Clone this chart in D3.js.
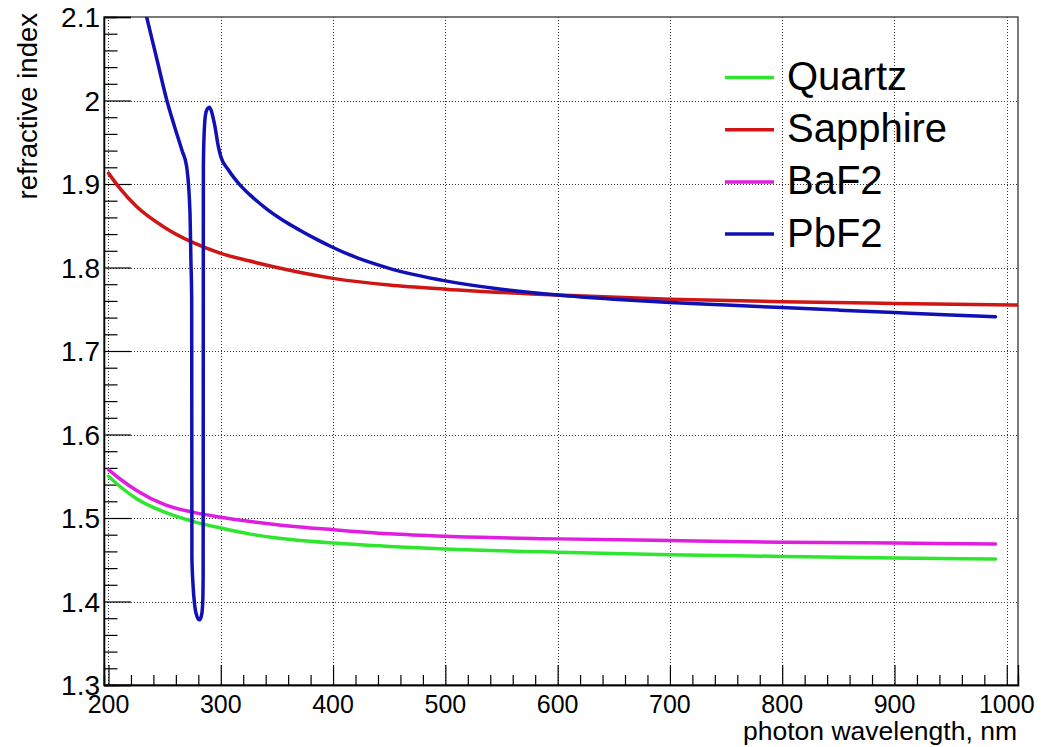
<!DOCTYPE html>
<html>
<head>
<meta charset="utf-8">
<script src="https://cdn.jsdelivr.net/npm/d3@7"></script>
<style>
  html, body { margin: 0; padding: 0; background: #fff; }
  svg { display: block; }
  text { font-family: "Liberation Sans", Arial, Helvetica, sans-serif; fill: #000; }
</style>
</head>
<body>
<svg id="chart" width="1041" height="747"></svg>
<script>
// Refractive index vs photon wavelength (nm)
const commonWl = [200, 210, 225, 250, 275, 300, 325, 350, 400, 450, 500, 600, 700, 800, 900, 990];
const quartzN  = [1.550, 1.538, 1.523, 1.507, 1.496, 1.488, 1.481, 1.476, 1.470, 1.466, 1.463, 1.459, 1.456, 1.454, 1.452, 1.451];
const baf2N    = [1.558, 1.547, 1.533, 1.516, 1.507, 1.501, 1.496, 1.492, 1.486, 1.481, 1.478, 1.475, 1.473, 1.471, 1.470, 1.469];

const sapphireWl = [200, 210, 225, 250, 275, 300, 325, 350, 400, 450, 500, 600, 700, 800, 900, 1010];
const sapphireN  = [1.913, 1.895, 1.873, 1.848, 1.830, 1.817, 1.808, 1.800, 1.787, 1.779, 1.774, 1.767, 1.762, 1.759, 1.757, 1.755];

const pbf2Wl = [228, 234, 243, 252, 259, 265.5, 269.6, 272.6, 273.4, 274.1, 274.3, 275.2, 276.8, 278.8, 280.9, 282.8,
                283.9, 284.3, 284.5, 285.2, 286.4, 288, 289.8, 291.5, 294.8, 297.8, 300, 306.7, 317, 326, 341, 356,
                370, 385, 400, 415, 450, 500, 550, 600, 650, 700, 750, 800, 850, 900, 950, 990];
const pbf2N  = [2.135, 2.100, 2.050, 2.000, 1.968, 1.940, 1.921, 1.865, 1.809, 1.761, 1.452, 1.422, 1.395, 1.382, 1.378, 1.383,
                1.398, 1.430, 1.921, 1.961, 1.983, 1.990, 1.992, 1.988, 1.969, 1.945, 1.933, 1.917, 1.899, 1.887, 1.870, 1.856,
                1.845, 1.834, 1.824, 1.815, 1.799, 1.784, 1.774, 1.767, 1.762, 1.758, 1.755, 1.752, 1.749, 1.746, 1.743, 1.741];

const seriesNames  = ["Quartz", "Sapphire", "BaF2", "PbF2"];
const seriesColors = ["#2fe62f", "#d01515", "#e01ee0", "#1010b4"];

const xTickValues = [200, 300, 400, 500, 600, 700, 800, 900, 1000];
const yTickValues = [1.3, 1.4, 1.5, 1.6, 1.7, 1.8, 1.9, 2.0, 2.1];
const yTickLabels = ["1.3", "1.4", "1.5", "1.6", "1.7", "1.8", "1.9", "2", "2.1"];

const xTitle = "photon wavelength, nm";
const yTitle = "refractive index";

// layout
const plot = { left: 104, right: 1018, top: 17, bottom: 685 };

const svg = d3.select("#chart");
const x = d3.scaleLinear().domain([196, 1010]).range([plot.left, plot.right]);
const y = d3.scaleLinear().domain([1.3, 2.1]).range([plot.bottom, plot.top]);

// grid (dotted)
const grid = svg.append("g").attr("stroke", "#333").attr("stroke-width", 1).attr("stroke-dasharray", "1,2");
grid.selectAll("line.vx").data(xTickValues).join("line")
  .attr("x1", d => Math.round(x(d)) + 0.5).attr("x2", d => Math.round(x(d)) + 0.5)
  .attr("y1", plot.top).attr("y2", plot.bottom);
grid.selectAll("line.hy").data(yTickValues.filter(v => v > 1.3 && v < 2.1)).join("line")
  .attr("y1", d => Math.round(y(d)) + 0.5).attr("y2", d => Math.round(y(d)) + 0.5)
  .attr("x1", plot.left).attr("x2", plot.right);

// frame
svg.append("rect")
  .attr("x", plot.left).attr("y", plot.top)
  .attr("width", plot.right - plot.left).attr("height", plot.bottom - plot.top)
  .attr("fill", "none").attr("stroke", "#333").attr("stroke-width", 1.3);

// axes with inward ticks (major + minor)
const xMinor = d3.range(200, 1011, 20).filter(v => v % 100 !== 0);
const yMinor = d3.range(1.30, 2.1001, 0.02).filter(v => Math.abs(v * 10 - Math.round(v * 10)) > 1e-6);

const xAxisMajor = d3.axisTop(x).tickValues(xTickValues).tickSize(20).tickFormat("");
const xAxisMinor = d3.axisTop(x).tickValues(xMinor).tickSize(10).tickFormat("");
const yAxisMajor = d3.axisRight(y).tickValues(yTickValues).tickSize(27).tickFormat("");
const yAxisMinor = d3.axisRight(y).tickValues(yMinor).tickSize(13.5).tickFormat("");

function styleAxis(g) {
  g.select(".domain").attr("stroke", "#000").attr("stroke-width", 1.3);
  g.selectAll(".tick line").attr("stroke", "#000").attr("stroke-width", 1.2);
}
svg.append("g").attr("transform", `translate(0,${plot.bottom})`).call(xAxisMajor).call(styleAxis);
svg.append("g").attr("transform", `translate(0,${plot.bottom})`).call(xAxisMinor).call(styleAxis);
svg.append("g").attr("transform", `translate(${plot.left},0)`).call(yAxisMajor).call(styleAxis);
svg.append("g").attr("transform", `translate(${plot.left},0)`).call(yAxisMinor).call(styleAxis);

// tick labels
svg.append("g").selectAll("text").data(xTickValues).join("text")
  .attr("x", d => x(d)).attr("y", 713)
  .attr("text-anchor", "middle").attr("font-size", 25)
  .text(d => d);
svg.append("g").selectAll("text").data(yTickValues).join("text")
  .attr("x", 100).attr("y", d => y(d))
  .attr("dy", "0.36em")
  .attr("text-anchor", "end").attr("font-size", 28)
  .text((d, i) => yTickLabels[i]);

// axis titles
svg.append("text")
  .attr("x", 1017).attr("y", 740)
  .attr("text-anchor", "end").attr("font-size", 26.5)
  .text(xTitle);
svg.append("text")
  .attr("transform", "translate(37,13) rotate(-90)")
  .attr("text-anchor", "end").attr("font-size", 27.5)
  .text(yTitle);

// curves
svg.append("clipPath").attr("id", "plotClip")
  .append("rect")
  .attr("x", plot.left).attr("y", plot.top)
  .attr("width", plot.right - plot.left).attr("height", plot.bottom - plot.top);

const series = [
  { wl: commonWl,   n: quartzN },
  { wl: sapphireWl, n: sapphireN },
  { wl: commonWl,   n: baf2N },
  { wl: pbf2Wl,     n: pbf2N }
];

const curves = svg.append("g").attr("clip-path", "url(#plotClip)");
series.forEach((s, i) => {
  const pts = s.wl.map((w, k) => [w, s.n[k]]);
  const line = d3.line().x(d => x(d[0])).y(d => y(d[1])).curve(d3.curveMonotoneX);
  curves.append("path")
    .attr("d", line(pts))
    .attr("fill", "none")
    .attr("stroke", seriesColors[i])
    .attr("stroke-width", 3.5)
    .attr("stroke-linejoin", "round")
    .attr("stroke-linecap", "round");
});

// legend
const legend = svg.append("g");
seriesNames.forEach((name, i) => {
  const ly = 77.5 + i * 52.2;
  legend.append("line")
    .attr("x1", 725).attr("x2", 774).attr("y1", ly).attr("y2", ly)
    .attr("stroke", seriesColors[i]).attr("stroke-width", 3.5);
  legend.append("text")
    .attr("x", 787).attr("y", ly + 12.5)
    .attr("font-size", 40)
    .text(name);
});
</script>
</body>
</html>
